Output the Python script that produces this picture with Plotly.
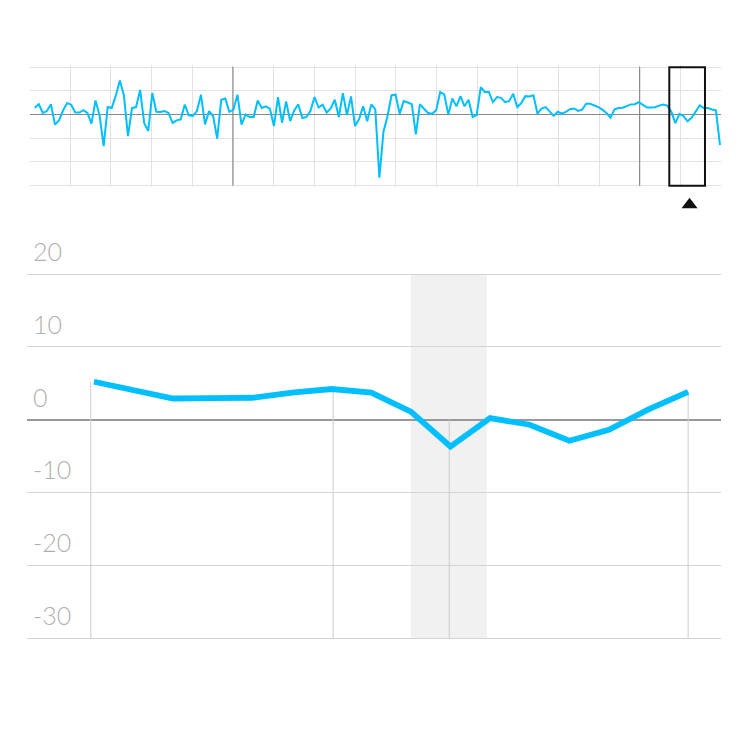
import plotly.graph_objects as go

# Full series (overview chart), one value per period
values = [
    2.8, 4.3, 0.6, 1.4, 4.3, -4.3, -2.5, 1.7, 4.8, 4.1,
    0.8, 0.8, 1.8, 0.6, -3.9, 5.9, -0.4, -13.4, 3.1, 2.7,
    8.0, 14.3, 8.0, -9.2, 2.7, 3.1, 10.3, -3.6, -7.0, 9.0,
    1.1, 1.0, 1.4, 0.6, -3.6, -2.5, -2.1, 4.1, -0.4, -0.6,
    1.4, 8.3, -4.2, 1.4, -0.7, -10.2, 6.2, 6.7, 1.1, 2.0,
    8.3, -4.3, 0.0, -1.1, -1.1, 5.9, 2.7, 3.4, 2.4, -4.9,
    7.3, -3.5, 5.5, -2.8, 1.7, 4.3, -1.5, -1.1, 1.4, 7.3,
    2.9, 4.1, 0.8, 2.5, 6.2, -1.1, 9.0, -0.3, 7.6, -4.9,
    -2.0, 3.4, -2.9, 4.2, 2.1, -26.7, -7.4, -0.8, 8.1, 8.3,
    0.3, 5.6, 5.0, 4.3, -8.4, 4.3, 2.4, 0.6, 0.3, 1.7,
    9.4, 8.4, -0.1, 6.7, 3.4, 7.7, 3.4, 6.2, -1.1, -0.3,
    11.5, 9.5, 9.5, 5.2, 7.3, 7.0, 5.2, 5.6, 8.7, 3.1,
    4.8, 7.7, 7.6, 8.1, 0.3, 2.5, 3.1, 1.3, -0.6, 1.1,
    0.3, 1.1, 2.2, 2.5, 1.5, 2.0, 4.5, 4.5, 3.9, 3.1,
    2.0, 0.6, -1.4, 2.1, 2.7, 2.8, 3.5, 4.2, 4.3, 5.2,
    4.0, 2.9, 2.95, 3.0, 3.7, 4.2, 3.7, 1.1, -3.7, 0.2,
    -0.7, -2.9, -1.4, 1.4, 3.8, 2.7, 2.7, 2.1, 1.7, -13.0,
]
periods = list(range(len(values)))

# Detail window shown in the main chart
detail_start, detail_end = 149, 165
detail_x = periods[detail_start:detail_end]
detail_y = values[detail_start:detail_end]

# Positions of the drop lines in the main chart (time ticks)
marked_positions = [148.92, 155.04, 157.97, 164.0]
# Highlighted band in the main chart
band = [157.0, 158.92]
# Brush window in the overview chart
brush = [156.5, 165.3]
brush_marker = 161.5
# Darker decade lines in overview
major_lines = [48.9, 149.2]

y_ticks = [20, 10, 0, -10, -20, -30]
y_labels = ["20", "10", "0", "-10", "-20", "-30"]

BLUE = "#00bfff"
W, H = 750, 736

fig = go.Figure()

# stems: from the series value (or zero, if negative) down to the axis bottom
sx, sy = [], []
for p in marked_positions:
    v = values[int(round(p))]
    sx += [p, p, None]
    sy += [max(v, 0), -30, None]
fig.add_trace(go.Scatter(x=sx, y=sy, mode="lines",
                         line=dict(color="#cccccc", width=1),
                         hoverinfo="skip", showlegend=False,
                         xaxis="x", yaxis="y"))

fig.add_trace(go.Scatter(x=detail_x, y=detail_y, mode="lines",
                         line=dict(color=BLUE, width=5.8),
                         showlegend=False, xaxis="x", yaxis="y"))

# darker decade lines in overview (drawn as traces, under the series)
mx, my = [], []
for m in major_lines:
    mx += [m, m, None]
    my += [-30, 20, None]
fig.add_trace(go.Scatter(x=mx, y=my, mode="lines",
                         line=dict(color="#777777", width=1),
                         hoverinfo="skip", showlegend=False,
                         xaxis="x2", yaxis="y2"))

fig.add_trace(go.Scatter(x=periods, y=values, mode="lines",
                         line=dict(color=BLUE, width=2),
                         showlegend=False, xaxis="x2", yaxis="y2"))

shapes = []
shapes.append(dict(type="rect", xref="x", yref="y",
                   x0=band[0], x1=band[1], y0=-30, y1=20,
                   fillcolor="#f1f1f1", line=dict(width=0), layer="below"))
shapes.append(dict(type="rect", xref="x2", yref="paper",
                   x0=brush[0], x1=brush[1],
                   y0=(H - 185.7) / H, y1=(H - 67.3) / H,
                   line=dict(color="#111111", width=2), layer="above"))
shapes.append(dict(type="path", xref="x2", yref="paper",
                   xsizemode="pixel", ysizemode="pixel",
                   xanchor=brush_marker, yanchor=(H - 208.3) / H,
                   path="M-8,0 L8,0 L0,10.6 Z",
                   fillcolor="#111111", line=dict(width=0)))

annotations = []
for v, lab in zip(y_ticks, y_labels):
    annotations.append(dict(x=31 / W, xref="paper", xanchor="left",
                            y=v, yref="y", yanchor="middle", yshift=23,
                            text=lab, showarrow=False,
                            font=dict(family="Lato", size=25, color="#b0b0b0",
                                      weight=300)))

# main plot: 20 -> y=274px, -30 -> y=638px ; pad by 0.25 units (~1.8px)
pad_main = 0.25
ppu_main = (638 - 274) / 50
pad_mini = 0.8
ppu_mini = (185.5 - 67) / 50

fig.update_layout(
    width=W, height=H,
    margin=dict(l=0, r=0, t=0, b=0),
    paper_bgcolor="white", plot_bgcolor="white",
    showlegend=False,
    shapes=shapes,
    annotations=annotations,
    xaxis=dict(domain=[27 / W, 721 / W], range=[147.31, 164.83],
               showgrid=False, zeroline=False, showticklabels=False,
               ticks="", showline=False),
    yaxis=dict(domain=[(H - 638 - pad_main * ppu_main) / H,
                       (H - 274 + pad_main * ppu_main) / H],
               range=[-30 - pad_main, 20 + pad_main],
               tickvals=y_ticks, showticklabels=False, ticks="",
               showgrid=True, gridcolor="#d4d4d4", gridwidth=1,
               zeroline=True, zerolinecolor="#999999", zerolinewidth=2,
               showline=False),
    xaxis2=dict(domain=[30 / W, 721 / W], range=[-1.16, 169.25],
                tick0=8.78, dtick=10.03, showgrid=True,
                gridcolor="#e2e2e2", gridwidth=1,
                zeroline=False, showticklabels=False, ticks="",
                showline=False, anchor="y2"),
    yaxis2=dict(domain=[(H - 185.5 - pad_mini * ppu_mini) / H,
                        (H - 67 + pad_mini * ppu_mini) / H],
                range=[-30 - pad_mini, 20 + pad_mini],
                tickvals=y_ticks, showticklabels=False, ticks="",
                showgrid=True, gridcolor="#e2e2e2", gridwidth=1,
                zeroline=True, zerolinecolor="#888888", zerolinewidth=1,
                showline=False, anchor="x2"),
)

fig.write_html("out.html", config={"displayModeBar": False},
               post_script="document.body.style.margin='0';")
